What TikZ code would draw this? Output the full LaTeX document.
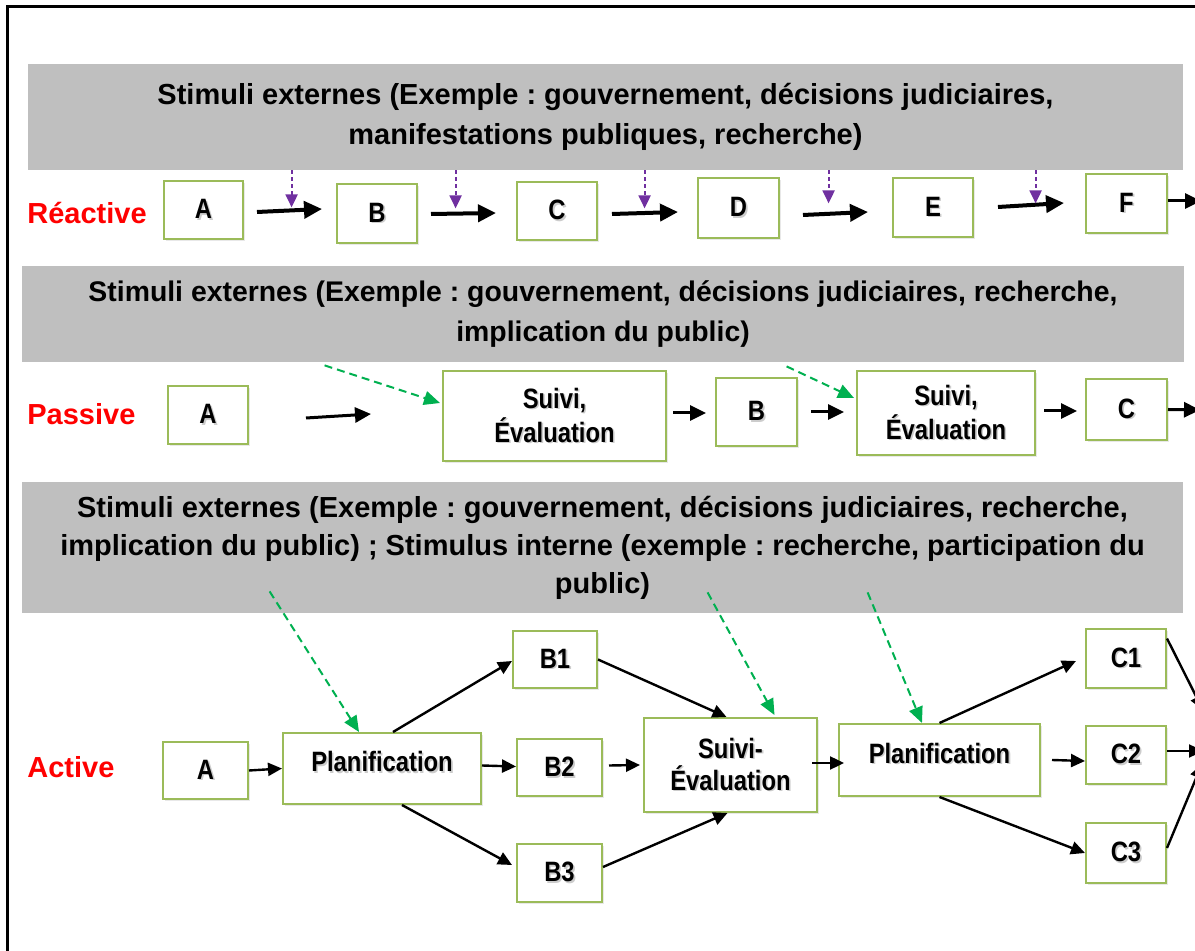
\documentclass[tikz,border=0pt]{standalone}
\usepackage{fontspec}
\setmainfont{Liberation Sans}
\newfontfamily\boxfont[FakeStretch=0.85]{Liberation Sans}
\usetikzlibrary{arrows.meta,shadows}
\definecolor{bannergray}{HTML}{BFBFBF}
\definecolor{boxgreen}{HTML}{9BBB59}
\definecolor{stimpurple}{HTML}{7030A0}
\definecolor{stimgreen}{HTML}{00B050}
\definecolor{labelred}{HTML}{FF0000}
\frenchspacing
% label text with a soft offset shadow
\newcommand\shd[1]{\makebox[0pt][l]{\hspace{0.8pt}\raisebox{-0.8pt}{\textcolor{black!20}{#1}}}#1}

\begin{document}
\begin{tikzpicture}[x=0.5pt,y=-0.5pt,
  banner/.style={fill=bannergray, draw=none, inner sep=0pt, align=center,
    font=\bfseries\fontsize{14.5}{20}\selectfont},
  box/.style={draw=boxgreen, line width=1pt, fill=white, inner sep=0pt, align=center,
    font=\boxfont\bfseries\fontsize{14}{17}\selectfont,
    drop shadow={opacity=0.18, shadow xshift=1pt, shadow yshift=-1pt}},
  sz/.style n args={2}{minimum width=#1*0.5pt, minimum height=#2*0.5pt},
  kind/.style={anchor=west, inner sep=0pt, text=labelred, font=\bfseries\fontsize{14.5}{17}\selectfont},
  rarrow/.style={-{Triangle[length=9pt,width=8.5pt]}, line width=2pt},
  parrow/.style={-{Triangle[length=8pt,width=7.5pt]}, line width=1.5pt},
  aarrow/.style={-{Triangle[length=7pt,width=6.5pt]}, line width=1.2pt},
  purplestim/.style={-{Triangle[length=6.5pt,width=6pt]}, stimpurple, line width=1pt,
    dash pattern=on 2pt off 1.5pt},
  greenstim/.style={-{Triangle[length=8pt,width=7pt]}, stimgreen, line width=1pt,
    dash pattern=on 4pt off 2.5pt},
]
\useasboundingbox (0,0) rectangle (1195,951);
\clip (0,0) rectangle (1195,951);
\fill[white] (0,0) rectangle (1195,951);
% outer frame (runs past the page on the right and bottom)
\draw[line width=1.5pt] (7,7) rectangle (1240,1000);

% ---------------- Réactive ----------------
\node[banner, sz={1155}{106}] (s1) at (605.5,117)
  {Stimuli externes (Exemple : gouvernement, décisions judiciaires,\\
   manifestations publiques, recherche)};
\node[kind] (lr) at (27,213) {Réactive};
\node[box, sz={79}{58}] (rA) at (203.5,210) {\shd{A}};
\node[box, sz={80}{59}] (rB) at (377,213.5) {\shd{B}};
\node[box, sz={80}{58}] (rC) at (557,211) {\shd{C}};
\node[box, sz={81}{60}] (rD) at (738.5,208) {\shd{D}};
\node[box, sz={80}{59}] (rE) at (933,207.5) {\shd{E}};
\node[box, sz={81}{59}] (rF) at (1126.5,203.5) {\shd{F}};
\coordinate (rOut) at (1201,201);

\draw[rarrow] ([shift={(13,2)}]rA.east) -- ([shift={(-14,-4.5)}]rB.west);
\draw[rarrow] ([shift={(13,0.5)}]rB.east) -- ([shift={(-20,2)}]rC.west);
\draw[rarrow] ([shift={(14,3)}]rC.east) -- ([shift={(-19,4)}]rD.west);
\draw[rarrow] ([shift={(23,7)}]rD.east) -- ([shift={(-24,4.5)}]rE.west);
\draw[rarrow] ([shift={(24,-0.5)}]rE.east) -- ([shift={(-21,-0.5)}]rF.west);
\draw[parrow] ([shift={(0,-2.5)}]rF.east) -- (rOut);

\draw[purplestim] ([shift={(264,0)}]s1.south west) -- ++(0,37);
\draw[purplestim] ([shift={(428,0)}]s1.south west) -- ++(0,38);
\draw[purplestim] ([shift={(617,0)}]s1.south west) -- ++(0,38);
\draw[purplestim] ([shift={(801,0)}]s1.south west) -- ++(0,33);
\draw[purplestim] ([shift={(1008,0)}]s1.south west) -- ++(0,33);

% ---------------- Passive ----------------
\node[banner, sz={1162}{96}, font=\bfseries\fontsize{14.2}{20}\selectfont] (s2) at (603,314)
  {Stimuli externes (Exemple : gouvernement, décisions judiciaires, recherche,\\
   implication du public)};
\node[kind] (lp) at (27,414) {Passive};
\node[box, sz={80}{58}] (pA) at (208,415) {\shd{A}};
\node[box, sz={223}{90}] (pS1) at (554.5,416) {\shd{Suivi,}\\\shd{Évaluation}};
\node[box, sz={81}{68}] (pB) at (756.5,412) {\shd{B}};
\node[box, sz={178}{84}] (pS2) at (946,413) {\shd{Suivi,}\\\shd{Évaluation}};
\node[box, sz={81}{61}] (pC) at (1126.5,409.5) {\shd{C}};
\coordinate (pOut) at (1200,410);

\draw[parrow] ([shift={(57,3)}]pA.east) -- ([shift={(-71,-2)}]pS1.west);
\draw[parrow] ([shift={(6,-3)}]pS1.east) -- ([shift={(-9,1)}]pB.west);
\draw[parrow] ([shift={(13,0)}]pB.east) -- ([shift={(-12,-1)}]pS2.west);
\draw[parrow] ([shift={(8,-2)}]pS2.east) -- ([shift={(-8,1.5)}]pC.west);
\draw[parrow] (pC.east) -- (pOut);

\draw[greenstim] ([shift={(303,3)}]s2.south west) -- ([shift={(-2,-13)}]pS1.west);
\draw[greenstim] ([shift={(765,4)}]s2.south west) -- ([shift={(-2,-15)}]pS2.west);

% ---------------- Active ----------------
\node[banner, sz={1161}{131}, font=\bfseries\fontsize{14.5}{19}\selectfont] (s3) at (602.5,547.5)
  {Stimuli externes (Exemple : gouvernement, décisions judiciaires, recherche,\\
   implication du public) ; Stimulus interne (exemple : recherche, participation du\\
   public)};
\node[kind] (la) at (27,767) {Active};
\node[box, sz={85}{57}] (aA) at (205.5,770.5) {\shd{A}};
\node[box, sz={198}{71}] (aP1) at (382,768.5) {\raisebox{7pt}{\shd{Planification}}};
\node[box, sz={84}{57}] (aB1) at (555,659.5) {\shd{B1}};
\node[box, sz={85}{57}] (aB2) at (559.5,767.5) {\shd{B2}};
\node[box, sz={85}{58}] (aB3) at (559.5,873) {\shd{B3}};
\node[box, sz={173}{94}, font=\boxfont\bfseries\fontsize{14}{16}\selectfont] (aS) at (730.5,765)
  {\shd{Suivi-}\\\shd{Évaluation}};
\node[box, sz={201}{72}] (aP2) at (939.5,760) {\raisebox{7pt}{\shd{Planification}}};
\node[box, sz={80}{59}] (aC1) at (1126,658.5) {\shd{C1}};
\node[box, sz={80}{58}] (aC2) at (1126,755) {\shd{C2}};
\node[box, sz={80}{60}] (aC3) at (1126,853) {\shd{C3}};
\coordinate (aOut1) at (1203,710);
\coordinate (aOut2) at (1203,751);
\coordinate (aOut3) at (1202,764);

\draw[aarrow] (aA.east) -- (aP1.west);
\draw[aarrow] ([shift={(11,0)}]aP1.north) -- ([shift={(0,1.5)}]aB1.west);
\draw[aarrow] ([shift={(0,-3)}]aP1.east) -- ([shift={(0,-1)}]aB2.west);
\draw[aarrow] ([shift={(20,0)}]aP1.south) -- ([shift={(-4,-8)}]aB3.west);
\draw[aarrow] (aB1.east) -- ([shift={(-4,0)}]aS.north);
\draw[aarrow] ([shift={(6,-2)}]aB2.east) -- ([shift={(-3,0)}]aS.west);
\draw[aarrow] ([shift={(0,-6)}]aB3.east) -- ([shift={(-3,0)}]aS.south);
\draw[aarrow] ([shift={(-6,-2)}]aS.east) -- ([shift={(6,3)}]aP2.west);
\draw[aarrow] (aP2.north) -- ([shift={(-9,2.5)}]aC1.west);
\draw[aarrow] ([shift={(11,0)}]aP2.east) -- ([shift={(0,6)}]aC2.west);
\draw[aarrow] (aP2.south) -- (aC3.west);
\draw[aarrow] ([shift={(0,-20)}]aC1.east) -- (aOut1);
\draw[aarrow] ([shift={(0,-4)}]aC2.east) -- (aOut2);
\draw[aarrow] ([shift={(0,-5)}]aC3.east) -- (aOut3);

\draw[greenstim] ([shift={(248,-22)}]s3.south west) -- ([shift={(-23,0)}]aP1.north);
\draw[greenstim] ([shift={(686,-21)}]s3.south west) -- ([shift={(44,-2)}]aS.north);
\draw[greenstim] ([shift={(846,-21)}]s3.south west) -- ([shift={(-17.5,0)}]aP2.north);
\end{tikzpicture}
\end{document}
